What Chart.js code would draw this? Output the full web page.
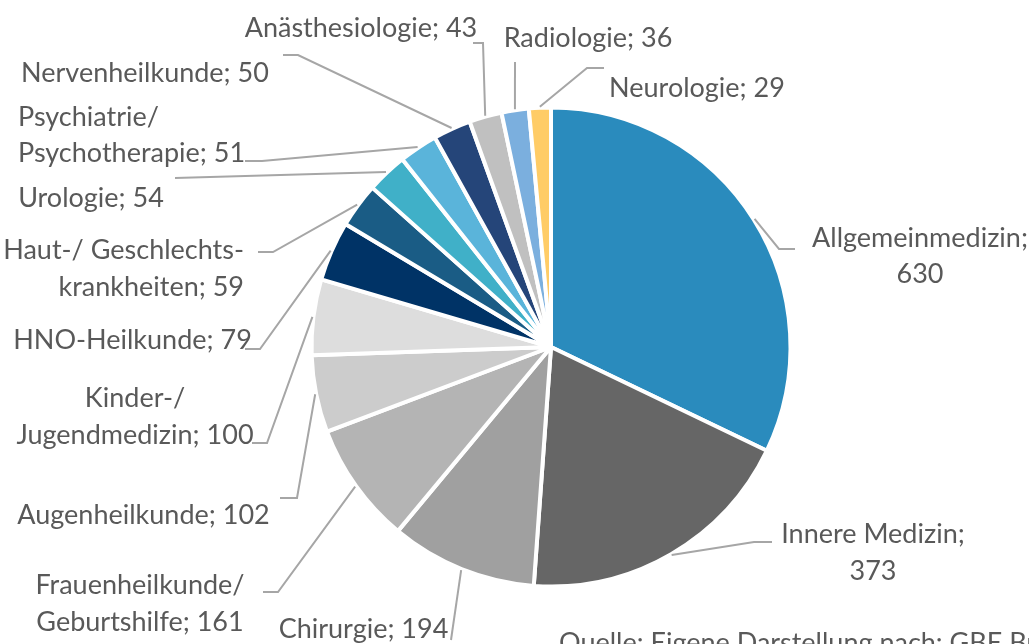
<!DOCTYPE html>
<html><head><meta charset="utf-8">
<script src="https://cdn.jsdelivr.net/npm/chart.js@4.4.0/dist/chart.umd.min.js"></script>
<style>html,body{margin:0;padding:0;background:#fff;overflow:hidden}#wrap{width:1029px;height:644px;position:relative}</style>
</head><body><div id="wrap"><canvas id="c" width="1029" height="644"></canvas></div>
<script>
const categories = ["Allgemeinmedizin","Innere Medizin","Chirurgie","Frauenheilkunde/Geburtshilfe","Augenheilkunde","Kinder-/Jugendmedizin","HNO-Heilkunde","Haut-/ Geschlechtskrankheiten","Urologie","Psychiatrie/Psychotherapie","Nervenheilkunde","Anästhesiologie","Radiologie","Neurologie"];
const values = [630,373,194,161,102,100,79,59,54,51,50,43,36,29];
const colors = ["#2A8BBD","#666666","#A0A0A0","#B4B4B4","#CCCCCC","#DDDDDD","#003366","#1A5C85","#40B0C8","#5AB4DA","#254579","#C0C0C0","#7BAFDE","#FFCC66"];
const labelLines = [["Allgemeinmedizin;","{v}"],["Innere Medizin;","{v}"],["Chirurgie; {v}"],["Frauenheilkunde/","Geburtshilfe; {v}"],["Augenheilkunde; {v}"],["Kinder-/","Jugendmedizin; {v}"],["HNO-Heilkunde; {v}"],["Haut-/ Geschlechts-","krankheiten; {v}"],["Urologie; {v}"],["Psychiatrie/","Psychotherapie; {v}"],["Nervenheilkunde; {v}"],["Anästhesiologie; {v}"],["Radiologie; {v}"],["Neurologie; {v}"]];
const sourceNote = "Quelle: Eigene Darstellung nach: GBE Bund";

// label placement (text anchor and leader-line start/knee points)
const labelLayout = [
 {align:'center', x:920, y:[237,273], path:[[795,249],[779,249]]},
 {align:'center', x:873, y:[533,570], path:[[772,542],[754,542]]},
 {align:'center', x:363.5, y:[628], path:[[451,640]]},
 {align:'center', x:140, y:[584,621], path:[[263,592],[278,592]]},
 {align:'center', x:143.5, y:[514], path:[[280,498],[297,498]]},
 {align:'center', x:135, y:[397.5,434.5], path:[[252,443],[267,443]]},
 {align:'center', x:132.5, y:[339], path:[[245,349],[260,349]]},
 {align:'right', x:244, y:[249.5,286.5], path:[[258,252],[273,252]]},
 {align:'center', x:91, y:[197.5], path:[[175,178]]},
 {align:'left', x:18, y:[116.5,152.5], path:[[245,161],[262,161]]},
 {align:'center', x:145, y:[72.5], path:[[283,55],[298,55]]},
 {align:'center', x:361, y:[27.5], path:[[473,43],[483,43]]},
 {align:'center', x:588, y:[37], path:[[515,62]]},
 {align:'center', x:697, y:[87], path:[[604,68],[587,68]]}
];
const FONT_SIZE = 27;
const FONT = FONT_SIZE + 'px Lato, "Open Sans", sans-serif';
const CAP = 0.717 * FONT_SIZE;

const labelPlugin = {
  id: 'outLabels',
  afterDatasetsDraw(chart) {
    const ctx = chart.ctx;
    const meta = chart.getDatasetMeta(0);
    ctx.save();
    meta.data.forEach((arc, i) => {
      const p = arc.getProps(['x','y','startAngle','endAngle','outerRadius'], true);
      const mid = (p.startAngle + p.endAngle) / 2;
      const r = p.outerRadius + 1;
      const px = p.x + Math.cos(mid) * r, py = p.y + Math.sin(mid) * r;
      const L = labelLayout[i];
      ctx.strokeStyle = '#a6a6a6';
      ctx.lineWidth = 2;
      ctx.lineJoin = 'miter';
      ctx.beginPath();
      ctx.moveTo(L.path[0][0], L.path[0][1]);
      for (let k = 1; k < L.path.length; k++) ctx.lineTo(L.path[k][0], L.path[k][1]);
      ctx.lineTo(px, py);
      ctx.stroke();
      ctx.fillStyle = '#595959';
      ctx.font = FONT;
      ctx.textAlign = L.align;
      ctx.textBaseline = 'alphabetic';
      labelLines[i].forEach((s, j) => {
        ctx.fillText(s.replace('{v}', values[i]), L.x, L.y[j] + CAP / 2);
      });
    });
    ctx.textAlign = 'left';
    ctx.fillText(sourceNote, 559, 633 + CAP);
    ctx.restore();
  }
};

new Chart(document.getElementById('c'), {
  type: 'pie',
  data: {
    labels: categories,
    datasets: [{
      data: values,
      backgroundColor: colors,
      borderColor: '#ffffff',
      borderWidth: 4,
      radius: 239.5
    }]
  },
  options: {
    responsive: false,
    devicePixelRatio: 1,
    animation: false,
    layout: { padding: { left: 73, right: 0, top: 50, bottom: 0 } },
    plugins: { legend: { display: false }, tooltip: { enabled: false } }
  },
  plugins: [labelPlugin]
});
</script>
</body></html>
